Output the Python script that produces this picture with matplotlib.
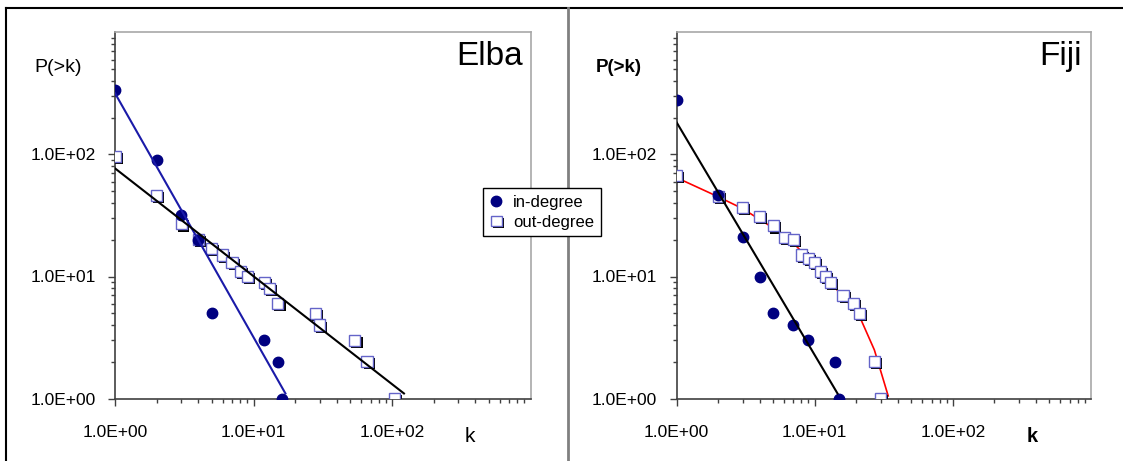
import numpy as np
import matplotlib
matplotlib.use("Agg")
import matplotlib.pyplot as plt
import matplotlib.patheffects as pe
from matplotlib.lines import Line2D
from matplotlib.ticker import FixedLocator, LogLocator, FuncFormatter, NullFormatter

plt.rcParams["font.family"] = ["Liberation Sans", "DejaVu Sans"]

# Elba data
elba_in_k = [1, 2, 3, 4, 5, 12, 15, 16]
elba_in_p = [340, 90, 32, 20, 5, 3, 2, 1]
elba_out_k = [1, 2, 3, 4, 5, 6, 7, 8, 9, 12, 13, 15, 28, 30, 54, 66, 104]
elba_out_p = [96, 46, 27, 20, 17, 15, 13, 11, 10, 9, 8, 6, 5, 4, 3, 2, 1]
elba_in_fit_k = [1, 17]
elba_in_fit_p = [318, 1.1]
elba_out_fit_k = [1, 122]
elba_out_fit_p = [77, 1.1]

# Fiji data
fiji_in_k = [1, 2, 3, 4, 5, 7, 9, 14, 15]
fiji_in_p = [280, 47, 21, 10, 5, 4, 3, 2, 1]
fiji_out_k = [1, 2, 3, 4, 5, 6, 7, 8, 9, 10, 11, 12, 13, 16, 19, 21, 27, 30]
fiji_out_p = [67, 45, 37, 31, 26, 21, 20, 15, 14, 13, 11, 10, 9, 7, 6, 5, 2, 1]
fiji_in_fit_k = [1, 14.6]
fiji_in_fit_p = [183, 1.1]
fiji_out_curve_k = [1.08, 2, 3, 5, 7.4, 12, 16, 20.6, 27, 34]
fiji_out_curve_p = [62, 45, 36, 25, 17.6, 10, 6.8, 5, 2.5, 1.05]

major_ticks = [1, 10, 100]

W, H = 1123, 461
fig = plt.figure(figsize=(W / 100, H / 100), dpi=100)

navy = "#000080"
sq_edge = "#6464c8"
shadow = [pe.SimplePatchShadow(offset=(1.5, -1.5), shadow_rgbFace="black", alpha=1.0), pe.Normal()]


def setup_axes(ax):
    ax.set_xscale("log")
    ax.set_yscale("log")
    ax.set_xlim(1, 1000)
    ax.set_ylim(1, 1000)
    for axis in (ax.xaxis, ax.yaxis):
        axis.set_major_locator(FixedLocator(major_ticks))
        axis.set_minor_locator(LogLocator(base=10, subs=np.arange(2, 10)))
        axis.set_major_formatter(FuncFormatter(lambda v, p: f"{v:.1E}"))
        axis.set_minor_formatter(NullFormatter())
    ax.tick_params(which="major", direction="out", length=5, width=1, color="#404040",
                   labelsize=12.5, pad=9)
    ax.tick_params(which="minor", direction="out", length=3, width=1, color="#404040")
    ax.tick_params(axis="x", which="major", pad=14)
    ax.spines["left"].set_color("#404040")
    ax.spines["bottom"].set_color("#404040")
    ax.spines["top"].set_color("#a8a8a8")
    ax.spines["right"].set_color("#a8a8a8")
    for s in ax.spines.values():
        s.set_linewidth(1.2)


# Elba panel
ax1 = fig.add_axes([115 / W, 1 - 398.5 / H, 415.5 / W, 366 / H])
setup_axes(ax1)
ax1.plot(elba_out_k, elba_out_p, "s", ms=8, mfc="white", mec=sq_edge, mew=1, path_effects=shadow, zorder=3)
ax1.plot(elba_in_k, elba_in_p, "o", ms=7.5, color=navy, mec=navy, zorder=3)
ax1.plot(elba_in_fit_k, elba_in_fit_p, color="#1a1aa8", lw=1.5, zorder=4)
ax1.plot(elba_out_fit_k, elba_out_fit_p, color="black", lw=1.5, zorder=4)

# Fiji panel
ax2 = fig.add_axes([676.7 / W, 1 - 398.5 / H, 414.3 / W, 366 / H])
setup_axes(ax2)
ax2.plot(fiji_out_curve_k, fiji_out_curve_p, color="red", lw=1.2, zorder=2)
ax2.plot(fiji_out_k, fiji_out_p, "s", ms=8, mfc="white", mec=sq_edge, mew=1, path_effects=shadow, zorder=3)
ax2.plot(fiji_in_k, fiji_in_p, "o", ms=7.5, color=navy, mec=navy, zorder=3)
ax2.plot(fiji_in_fit_k, fiji_in_fit_p, color="black", lw=1.5, zorder=4)

# titles and axis words
fig.text(523 / W, 1 - 65 / H, "Elba", ha="right", va="baseline", fontsize=24)
fig.text(1082 / W, 1 - 65 / H, "Fiji", ha="right", va="baseline", fontsize=24)
fig.text(34 / W, 1 - 72 / H, "P(>k)", ha="left", va="baseline", fontsize=14)
fig.text(596 / W, 1 - 72 / H, "P(>k)", ha="left", va="baseline", fontsize=13.5, fontweight="bold")
fig.text(470 / W, 1 - 442 / H, "k", ha="center", va="baseline", fontsize=15)
fig.text(1032 / W, 1 - 442 / H, "k", ha="center", va="baseline", fontsize=14.5, fontweight="bold")

# outer frame and divider
fig.add_artist(Line2D([5.5 / W, 1], [1 - 8.5 / H, 1 - 8.5 / H], color="black", lw=1.5, transform=fig.transFigure))
fig.add_artist(Line2D([5.5 / W, 5.5 / W], [0, 1 - 8.5 / H], color="black", lw=1.5, transform=fig.transFigure))
fig.add_artist(Line2D([567.5 / W, 567.5 / W], [0, 1 - 8.5 / H], color="#808080", lw=2, transform=fig.transFigure))

# legend
h_in = Line2D([], [], marker="o", ls="none", ms=7.5, color=navy, label="in-degree")
h_out = Line2D([], [], marker="s", ls="none", ms=7.5, mfc="white", mec=sq_edge, mew=1,
               path_effects=shadow, label="out-degree")
leg = fig.legend(handles=[h_in, h_out], loc="upper left", bbox_to_anchor=(483 / W, 1 - 188 / H),
                 borderaxespad=0, fontsize=12, frameon=True, fancybox=False, framealpha=1,
                 edgecolor="black", handlelength=0.8, handletextpad=0.6, borderpad=0.4,
                 labelspacing=0.3)
leg.get_frame().set_linewidth(1)
leg.set_zorder(10)

fig.savefig("out.png", dpi=100)
